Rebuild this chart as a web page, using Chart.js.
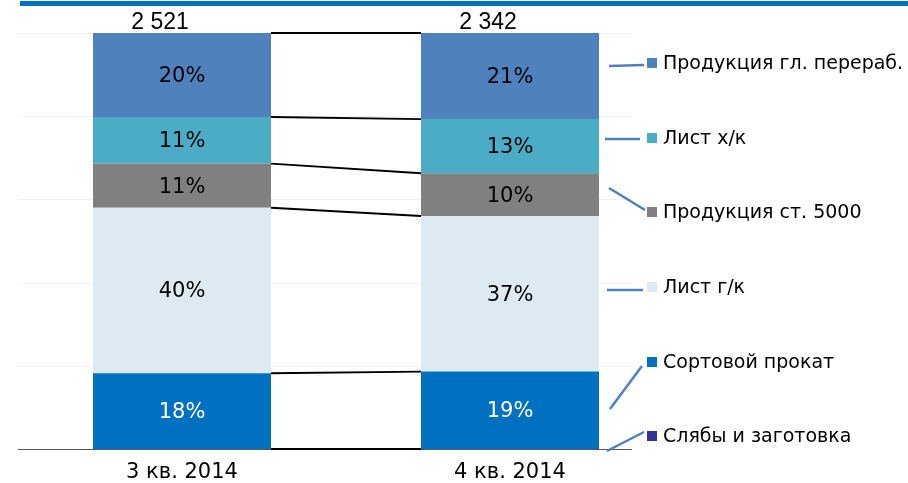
<!DOCTYPE html>
<html><head><meta charset="utf-8">
<script src="https://cdn.jsdelivr.net/npm/chart.js@4.4.1/dist/chart.umd.min.js"></script>
<style>html,body{margin:0;padding:0;background:#fff}#wrap{width:908px;height:483px;position:relative}</style>
</head><body><div id="wrap"><canvas id="c" width="908" height="483"></canvas></div>
<script>
// ---- data ----
const categories = ['3 кв. 2014', '4 кв. 2014'];
const totals = [2521, 2342];
const seriesNames = ['Слябы и заготовка', 'Сортовой прокат', 'Лист г/к', 'Продукция ст. 5000', 'Лист х/к', 'Продукция гл. перераб.'];
const slabs = [0, 0];
const sections = [18.2, 18.6];
const hotRolled = [39.8, 37.4];
const mill5000 = [10.6, 10.3];
const coldRolled = [11.2, 13.0];
const deepProcessing = [20.2, 20.7];
const yTicks = [0, 20, 40, 60, 80, 100];

const seriesValues = [slabs, sections, hotRolled, mill5000, coldRolled, deepProcessing];
const seriesColors = ['#333399', '#0070C0', '#DEEAF2', '#808080', '#4BACC6', '#4F81BD'];
const labelColors = ['#fff', '#fff', '#000', '#000', '#000', '#000'];

// ---- layout (not data) ----
const FONT = '"DejaVu Sans", Verdana, sans-serif';
const legendRows = [436, 362, 287, 212, 138, 63]; // per series index
const leaders = [[607,451,644,432],[610,409,642,366],[607,290,643,290],[609,188,645,210],[605,139,640,139],[609,66,644,65]];

function fmtTotal(v){ return String(v).replace(/\B(?=(\d{3})+(?!\d))/g, ' '); }

const decor = {
  id: 'decor',
  beforeDraw(chart) {
    const ctx = chart.ctx;
    ctx.save();
    ctx.fillStyle = '#fff';
    ctx.fillRect(0, 0, chart.width, chart.height);
    ctx.fillStyle = '#0070C0';
    ctx.fillRect(20, 1, 888, 5);
    // gridlines
    const y = chart.scales.y;
    ctx.strokeStyle = '#F2F2F2';
    ctx.lineWidth = 1;
    yTicks.forEach(t => {
      if (t === 0) return;
      const py = Math.round(y.getPixelForValue(t)) + 0.5;
      ctx.beginPath(); ctx.moveTo(18, py); ctx.lineTo(632, py); ctx.stroke();
    });
    ctx.restore();
  },
  afterDatasetsDraw(chart) {
    const ctx = chart.ctx;
    const y = chart.scales.y;
    ctx.save();
    // axis line
    const by = Math.round(y.getPixelForValue(0)) + 0.5;
    ctx.strokeStyle = '#595959'; ctx.lineWidth = 1.2;
    ctx.beginPath(); ctx.moveTo(18, by); ctx.lineTo(632, by); ctx.stroke();
    // series lines
    ctx.strokeStyle = '#000'; ctx.lineWidth = 1.9;
    chart.data.datasets.forEach((ds, i) => {
      const meta = chart.getDatasetMeta(i);
      const a = meta.data[0], b = meta.data[1];
      ctx.beginPath();
      ctx.moveTo(a.x + a.width / 2, a.y);
      ctx.lineTo(b.x - b.width / 2, b.y);
      ctx.stroke();
      if (i === 0) {
        ctx.beginPath();
        ctx.moveTo(a.x + a.width / 2, a.base);
        ctx.lineTo(b.x - b.width / 2, b.base);
        ctx.stroke();
      }
    });
    // value labels
    ctx.font = '21px ' + FONT;
    ctx.textAlign = 'center'; ctx.textBaseline = 'middle';
    chart.data.datasets.forEach((ds, i) => {
      const meta = chart.getDatasetMeta(i);
      meta.data.forEach((el, j) => {
        const v = ds.data[j];
        if (!v) return;
        ctx.fillStyle = labelColors[i];
        ctx.fillText(Math.round(v) + '%', el.x, (el.y + el.base) / 2 + 1.5);
      });
    });
    // totals
    ctx.font = '23px "Liberation Sans Narrow", "Arial Narrow", sans-serif';
    ctx.fillStyle = '#000';
    const top = chart.getDatasetMeta(chart.data.datasets.length - 1);
    top.data.forEach((el, j) => {
      ctx.fillText(fmtTotal(totals[j]), el.x - 22, 23);
    });
    // legend with leader lines
    ctx.strokeStyle = '#4F81BD'; ctx.lineWidth = 2.5;
    leaders.forEach(l => { ctx.beginPath(); ctx.moveTo(l[0], l[1]); ctx.lineTo(l[2], l[3]); ctx.stroke(); });
    ctx.font = '19px ' + FONT;
    ctx.textAlign = 'left';
    seriesNames.forEach((n, i) => {
      const ry = legendRows[i];
      ctx.fillStyle = seriesColors[i];
      ctx.fillRect(647, ry - 5, 10, 10);
      ctx.fillStyle = '#000';
      ctx.fillText(n, 663, ry + 1);
    });
    ctx.restore();
  }
};

new Chart(document.getElementById('c'), {
  type: 'bar',
  data: {
    labels: categories,
    datasets: seriesNames.map((n, i) => ({
      label: n,
      data: seriesValues[i],
      backgroundColor: seriesColors[i],
      borderWidth: 0,
      categoryPercentage: 1,
      barPercentage: 0.5427
    }))
  },
  options: {
    responsive: false,
    animation: false,
    devicePixelRatio: 1,
    layout: { padding: { left: 18, right: 234, top: 33, bottom: 0 } },
    plugins: { legend: { display: false }, tooltip: { enabled: false } },
    scales: {
      x: {
        stacked: true,
        grid: { display: false, drawTicks: false },
        border: { display: false },
        ticks: { color: '#000', font: { family: FONT, size: 21 }, padding: 11 },
        afterFit(s) { s.height = 34; }
      },
      y: {
        stacked: true, min: 0, max: 100, display: false
      }
    }
  },
  plugins: [decor]
});
</script>
</body></html>
